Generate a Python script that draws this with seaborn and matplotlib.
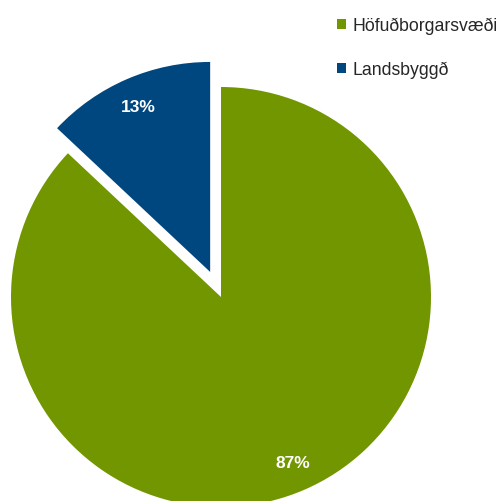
import matplotlib
matplotlib.use("Agg")
import matplotlib.pyplot as plt
import seaborn as sns

# gögn
svaedi = ["Höfuðborgarsvæði", "Landsbyggð"]
hlutfall = [87, 13]
litir = ["#729600", "#00467F"]
utdrattur = [0, 0.13]

sns.set_theme(style="white")
plt.rcParams['font.family'] = ['Liberation Sans', 'DejaVu Sans']

fig = plt.figure(figsize=(5.01, 5.02), dpi=100)
ax = fig.add_axes([0, 0, 1, 1])

wedges, texts, autotexts = ax.pie(
    hlutfall, colors=litir, explode=utdrattur, startangle=90,
    counterclock=False, autopct='%1.0f%%', pctdistance=0.86,
    wedgeprops=dict(linewidth=0),
    textprops=dict(color='white', fontsize=12.5, fontweight='bold'))

# staðsetning kökunnar: miðja (221, 298) px, radíus 210 px
r = 210.0
ax.set_xlim(-221 / r, (501 - 221) / r)
ax.set_ylim(-(502 - 298) / r, 298 / r)
ax.set_aspect('auto')
ax.axis('off')

leg = fig.legend(wedges, svaedi, loc='upper left',
                 bbox_to_anchor=(337 / 501, 1 - 18 / 502),
                 frameon=False, fontsize=12.7, handlelength=0.5, handleheight=0.5,
                 handletextpad=0.4, labelspacing=1.5, borderpad=0, borderaxespad=0)

fig.savefig('out.png', dpi=100)
